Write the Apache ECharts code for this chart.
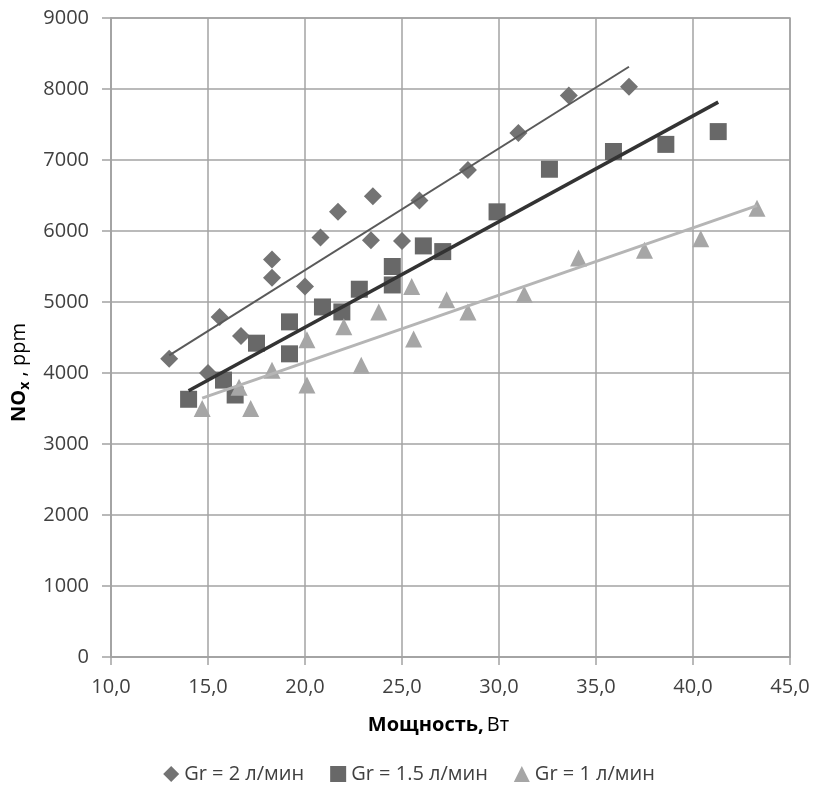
<!DOCTYPE html>
<html>
<head>
<meta charset="utf-8">
<script src="https://cdn.jsdelivr.net/npm/echarts@6/dist/echarts.min.js"></script>
<style>
  html, body { margin: 0; padding: 0; background: #fff; }
  #chart { width: 818px; height: 795px; }
</style>
</head>
<body>
<div id="chart"></div>
<script>
// x: power, W ; y: NOx, ppm
const gr2 = [
  [13.0, 4200], [15.0, 4000], [15.6, 4790], [16.7, 4520], [18.3, 5340], [18.3, 5600],
  [20.0, 5220], [20.8, 5910], [21.7, 6270], [23.4, 5870], [23.5, 6490], [25.0, 5860],
  [25.9, 6430], [28.4, 6860], [31.0, 7380], [33.6, 7910], [36.7, 8030]
]
const gr15 = [
  [14.0, 3630], [15.8, 3900], [16.4, 3690], [17.5, 4420], [19.2, 4270], [19.2, 4720],
  [20.9, 4930], [21.9, 4860], [22.8, 5180], [24.5, 5240], [24.5, 5500], [26.1, 5790],
  [27.1, 5710], [29.9, 6270], [32.6, 6870], [35.9, 7120], [38.6, 7220], [41.3, 7400]
]
const gr1 = [
  [14.7, 3500], [16.6, 3800], [17.2, 3500], [18.3, 4040], [20.1, 3830], [20.1, 4470],
  [22.0, 4650], [22.9, 4110], [23.8, 4860], [25.5, 5220], [25.6, 4480], [27.3, 5030],
  [28.4, 4860], [31.3, 5110], [34.1, 5620], [37.5, 5730], [40.4, 5890], [43.3, 6320]
]
const seriesNames = ['Gr = 2 л/мин', 'Gr = 1.5 л/мин', 'Gr = 1 л/мин']
const xTicks = { min: 10, max: 45, step: 5 }
const yTicks = { min: 0, max: 9000, step: 1000 }

const font = '"Open Sans", "Liberation Sans", sans-serif'
const textColor = '#404040'
const gridColor = '#a3a3a3'

// linear least-squares trend, drawn from min x to max x like Excel does
function trend(points) {
  const n = points.length
  const mx = points.reduce((s, p) => s + p[0], 0) / n
  const my = points.reduce((s, p) => s + p[1], 0) / n
  let sxy = 0, sxx = 0
  points.forEach(([x, y]) => { sxy += (x - mx) * (y - my); sxx += (x - mx) ** 2 })
  const k = sxy / sxx
  const xs = points.map(p => p[0])
  const x0 = Math.min(...xs), x1 = Math.max(...xs)
  return [[x0, my + k * (x0 - mx)], [x1, my + k * (x1 - mx)]]
}

function scatter(name, data, symbol, size, color) {
  return {
    name, type: 'scatter', data, symbol, symbolSize: size,
    itemStyle: { color, opacity: 1 }, z: 2
  }
}

function trendLine(data, color, width) {
  return {
    name: 'trend', type: 'line', data: trend(data), symbol: 'none',
    lineStyle: { color, width }, z: 3, silent: true
  }
}

const chart = echarts.init(document.getElementById('chart'))
chart.setOption({
  animation: false,
  backgroundColor: '#fff',
  textStyle: { fontFamily: font, color: textColor },
  grid: {
    left: 111, right: 28, top: 18, bottom: 138, outerBoundsMode: 'none', containLabel: false,
    show: true, borderColor: gridColor, borderWidth: 1.5
  },
  xAxis: {
    type: 'value', min: xTicks.min, max: xTicks.max, interval: xTicks.step,
    name: '{b|Мощность,} {r|Вт}', nameLocation: 'middle', nameGap: 58,
    nameTextStyle: {
      padding: [0, 24, 0, 0],
      rich: {
        b: { fontFamily: font, fontSize: 20, fontWeight: 'bold', color: '#000' },
        r: { fontFamily: font, fontSize: 20, color: '#000' }
      }
    },
    axisLine: { lineStyle: { color: gridColor, width: 1.5 } },
    axisTick: { show: true, length: 8, lineStyle: { color: gridColor, width: 1.5 } },
    axisLabel: {
      margin: 20, fontSize: 20, color: textColor, fontFamily: font,
      formatter: v => v.toFixed(1).replace('.', ',')
    },
    splitLine: { show: true, lineStyle: { color: gridColor, width: 1.5 } }
  },
  yAxis: {
    type: 'value', min: yTicks.min, max: yTicks.max, interval: yTicks.step,
    name: '{b|NO}{s|x}{r| , ppm}', nameLocation: 'middle', nameGap: 78,
    nameTextStyle: {
      padding: [0, 70, 0, 0],
      rich: {
        b: { fontFamily: font, fontSize: 20, fontWeight: 'bold', color: '#000', lineHeight: 26 },
        s: { fontFamily: font, fontSize: 14, fontWeight: 'bold', color: '#000', verticalAlign: 'bottom', lineHeight: 26, padding: [10, 0, 0, 0] },
        r: { fontFamily: font, fontSize: 20, color: '#000', lineHeight: 26 }
      }
    },
    axisLine: { show: true, lineStyle: { color: gridColor, width: 1.5 } },
    axisTick: { show: true, length: 9, lineStyle: { color: gridColor, width: 1.5 } },
    axisLabel: { margin: 22, fontSize: 20, color: textColor, fontFamily: font, formatter: v => String(v) },
    splitLine: { show: true, lineStyle: { color: gridColor, width: 1.5 } }
  },
  legend: {
    bottom: 6, left: 'center', itemGap: 26, itemWidth: 16, itemHeight: 16,
    textStyle: { fontSize: 20, color: textColor, fontFamily: font },
    data: [
      { name: seriesNames[0], icon: 'diamond' },
      { name: seriesNames[1], icon: 'rect' },
      { name: seriesNames[2], icon: 'triangle' }
    ]
  },
  series: [
    scatter(seriesNames[0], gr2, 'diamond', 18, '#737373'),
    scatter(seriesNames[1], gr15, 'rect', 17, '#686868'),
    scatter(seriesNames[2], gr1, 'triangle', 17, '#a6a6a6'),
    trendLine(gr2, '#5a5a5a', 2),
    trendLine(gr15, '#333333', 3.5),
    trendLine(gr1, '#b5b5b5', 3)
  ]
})
</script>
</body>
</html>
